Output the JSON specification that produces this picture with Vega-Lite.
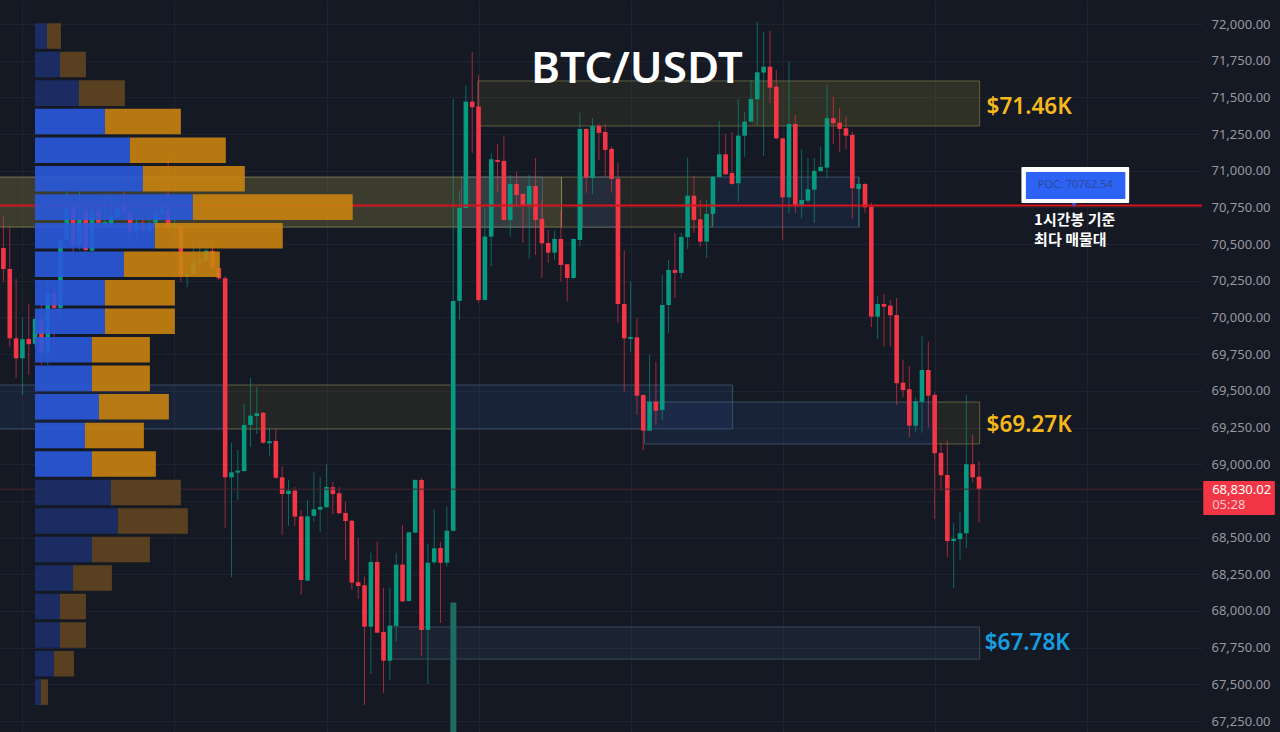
{
  "$schema": "https://vega.github.io/schema/vega-lite/v6.json",
  "width": 1280,
  "height": 732,
  "autosize": {"type": "fit", "contains": "padding"},
  "padding": 0,
  "background": "#151924",
  "config": {"view": {"stroke": null}},
  "datasets": {
    "zones": [
      {"t0": -3, "t1": 88.1, "top": 70957, "bottom": 70616, "kind": "olive_b"},
      {"t0": 88.1, "t1": 111.9, "top": 70957, "bottom": 70616, "kind": "olive_d"},
      {"t0": 72.3, "t1": 85.1, "top": 70957, "bottom": 70616, "kind": "blue"},
      {"t0": 91.4, "t1": 97.3, "top": 70957, "bottom": 70616, "kind": "blue"},
      {"t0": 111.9, "t1": 135.1, "top": 70957, "bottom": 70616, "kind": "blue"},
      {"t0": 74.9, "t1": 154.1, "top": 71612, "bottom": 71305, "kind": "olive_d"},
      {"t0": 118.1, "t1": 154.1, "top": 71612, "bottom": 71305, "kind": "tint"},
      {"t0": -3, "t1": 35, "top": 69540, "bottom": 69240, "kind": "blue"},
      {"t0": 35, "t1": 71.2, "top": 69540, "bottom": 69240, "kind": "olive_d"},
      {"t0": 71.2, "t1": 115.1, "top": 69540, "bottom": 69240, "kind": "blue"},
      {"t0": 101.2, "t1": 146.9, "top": 69424, "bottom": 69138, "kind": "blue"},
      {"t0": 146.9, "t1": 154.1, "top": 69424, "bottom": 69138, "kind": "olive_d"},
      {"t0": 61, "t1": 154.1, "top": 67891, "bottom": 67672, "kind": "blue_faint"},
      {"t0": 70.55, "t1": 71.5, "top": 68057, "bottom": 67100, "kind": "vol"}
    ],
    "candles": [
      {"t":0,"o":70474,"h":70687,"l":70244,"c":70331},{"t":1,"o":70331,"h":70619,"l":69801,"c":69858},
      {"t":2,"o":69858,"h":70263,"l":69588,"c":69722},{"t":3,"o":69722,"h":69997,"l":69472,"c":69852},
      {"t":4,"o":69854,"h":70092,"l":69608,"c":69818},{"t":5,"o":69820,"h":70000,"l":69800,"c":69990},
      {"t":6,"o":69990,"h":70099,"l":69677,"c":69760},{"t":7,"o":69760,"h":70256,"l":69677,"c":70167},
      {"t":8,"o":70167,"h":70256,"l":69758,"c":70065},{"t":9,"o":70065,"h":70530,"l":69963,"c":70524},
      {"t":10,"o":70528,"h":70903,"l":70528,"c":70746},{"t":11,"o":70749,"h":70755,"l":70426,"c":70494},
      {"t":12,"o":70494,"h":70869,"l":70460,"c":70672},{"t":13,"o":70728,"h":70801,"l":70447,"c":70460},
      {"t":14,"o":70455,"h":70801,"l":70447,"c":70728},{"t":15,"o":70728,"h":70821,"l":70631,"c":70646},
      {"t":16,"o":70637,"h":70821,"l":70617,"c":70651},{"t":17,"o":70642,"h":70821,"l":70610,"c":70692},
      {"t":18,"o":70687,"h":70821,"l":70678,"c":70746},{"t":19,"o":70767,"h":70858,"l":70665,"c":70721},
      {"t":20,"o":70719,"h":70801,"l":70483,"c":70585},{"t":21,"o":70585,"h":70699,"l":70528,"c":70646},
      {"t":22,"o":70646,"h":70699,"l":70576,"c":70592},{"t":23,"o":70592,"h":70712,"l":70562,"c":70642},
      {"t":24,"o":70646,"h":70801,"l":70631,"c":70710},{"t":25,"o":70710,"h":70767,"l":70699,"c":70733},
      {"t":26,"o":70733,"h":71096,"l":70597,"c":70619},{"t":27,"o":70617,"h":70699,"l":70528,"c":70637},
      {"t":28,"o":70619,"h":70624,"l":70244,"c":70290},{"t":29,"o":70283,"h":70378,"l":70206,"c":70297},
      {"t":30,"o":70297,"h":70528,"l":70290,"c":70381},{"t":31,"o":70372,"h":70508,"l":70290,"c":70385},
      {"t":32,"o":70385,"h":70494,"l":70372,"c":70455},{"t":33,"o":70455,"h":70517,"l":70312,"c":70340},
      {"t":34,"o":70336,"h":70340,"l":70256,"c":70267},{"t":35,"o":70267,"h":70283,"l":68568,"c":68911},
      {"t":36,"o":68911,"h":69147,"l":68230,"c":68945},{"t":37,"o":68943,"h":69097,"l":68756,"c":68956},
      {"t":38,"o":68954,"h":69411,"l":68950,"c":69268},{"t":39,"o":69268,"h":69588,"l":69118,"c":69331},
      {"t":40,"o":69329,"h":69527,"l":69206,"c":69347},{"t":41,"o":69351,"h":69355,"l":69140,"c":69147},
      {"t":42,"o":69143,"h":69247,"l":69056,"c":69157},{"t":43,"o":69159,"h":69247,"l":68900,"c":68908},
      {"t":44,"o":68911,"h":68988,"l":68518,"c":68797},{"t":45,"o":68797,"h":68893,"l":68581,"c":68820},
      {"t":46,"o":68820,"h":68845,"l":68579,"c":68643},{"t":47,"o":68645,"h":68688,"l":68109,"c":68211},
      {"t":48,"o":68207,"h":68756,"l":68205,"c":68645},{"t":49,"o":68648,"h":68949,"l":68609,"c":68693},
      {"t":50,"o":68690,"h":68913,"l":68538,"c":68709},{"t":51,"o":68707,"h":69000,"l":68705,"c":68845},
      {"t":52,"o":68843,"h":68879,"l":68661,"c":68797},{"t":53,"o":68802,"h":68845,"l":68660,"c":68666},
      {"t":54,"o":68668,"h":68743,"l":68348,"c":68613},{"t":55,"o":68615,"h":68620,"l":68143,"c":68193},
      {"t":56,"o":68196,"h":68498,"l":68082,"c":68170},{"t":57,"o":68175,"h":68234,"l":67359,"c":67893},
      {"t":58,"o":67893,"h":68397,"l":67571,"c":68334},{"t":59,"o":68334,"h":68472,"l":67850,"c":67852},
      {"t":60,"o":67857,"h":68159,"l":67443,"c":67661},{"t":61,"o":67661,"h":68159,"l":67530,"c":67900},
      {"t":62,"o":67898,"h":68397,"l":67791,"c":68316},{"t":63,"o":68316,"h":68586,"l":68060,"c":68066},
      {"t":64,"o":68068,"h":68540,"l":68065,"c":68536},{"t":65,"o":68534,"h":68896,"l":68530,"c":68893},
      {"t":66,"o":68893,"h":68906,"l":67695,"c":67871},{"t":67,"o":67871,"h":68457,"l":67503,"c":68329},
      {"t":68,"o":68332,"h":68695,"l":68320,"c":68427},{"t":69,"o":68429,"h":68472,"l":67918,"c":68329},
      {"t":70,"o":68329,"h":68711,"l":68302,"c":68547},{"t":71,"o":68547,"h":71489,"l":68540,"c":70113},
      {"t":72,"o":70113,"h":70864,"l":69983,"c":70746},{"t":73,"o":70746,"h":71580,"l":70746,"c":71471},
      {"t":74,"o":71471,"h":71810,"l":71121,"c":71433},{"t":75,"o":71437,"h":71653,"l":70099,"c":70119},
      {"t":76,"o":70119,"h":70746,"l":70115,"c":70551},{"t":77,"o":70551,"h":71121,"l":70351,"c":71078},
      {"t":78,"o":71074,"h":71183,"l":70858,"c":71060},{"t":79,"o":71067,"h":71239,"l":70660,"c":70665},
      {"t":80,"o":70665,"h":70971,"l":70551,"c":70910},{"t":81,"o":70910,"h":70994,"l":70760,"c":70835},
      {"t":82,"o":70842,"h":70845,"l":70510,"c":70767},{"t":83,"o":70767,"h":70971,"l":70399,"c":70896},
      {"t":84,"o":70896,"h":71087,"l":70426,"c":70665},{"t":85,"o":70672,"h":70801,"l":70269,"c":70506},
      {"t":86,"o":70508,"h":70597,"l":70372,"c":70442},{"t":87,"o":70442,"h":70592,"l":70392,"c":70535},
      {"t":88,"o":70535,"h":70733,"l":70244,"c":70358},{"t":89,"o":70363,"h":70365,"l":70108,"c":70269},
      {"t":90,"o":70269,"h":70540,"l":70265,"c":70535},{"t":91,"o":70528,"h":71396,"l":70483,"c":71285},
      {"t":92,"o":71285,"h":71290,"l":70849,"c":70953},{"t":93,"o":70951,"h":71358,"l":70842,"c":71305},
      {"t":94,"o":71305,"h":71319,"l":71074,"c":71258},{"t":95,"o":71264,"h":71319,"l":70960,"c":71142},
      {"t":96,"o":71149,"h":71164,"l":70851,"c":70944},{"t":97,"o":70946,"h":71053,"l":69963,"c":70092},
      {"t":98,"o":70092,"h":70460,"l":69495,"c":69858},{"t":99,"o":69854,"h":70244,"l":69767,"c":69867},
      {"t":100,"o":69865,"h":69995,"l":69336,"c":69467},{"t":101,"o":69472,"h":69475,"l":69097,"c":69229},
      {"t":102,"o":69229,"h":69745,"l":69225,"c":69426},{"t":103,"o":69426,"h":69699,"l":69268,"c":69365},
      {"t":104,"o":69370,"h":70290,"l":69302,"c":70085},{"t":105,"o":70085,"h":70392,"l":69895,"c":70324},
      {"t":106,"o":70324,"h":70576,"l":70133,"c":70304},{"t":107,"o":70304,"h":70576,"l":70269,"c":70549},
      {"t":108,"o":70547,"h":71089,"l":70467,"c":70830},{"t":109,"o":70830,"h":70965,"l":70576,"c":70665},
      {"t":110,"o":70669,"h":70801,"l":70483,"c":70517},{"t":111,"o":70517,"h":70801,"l":70406,"c":70706},
      {"t":112,"o":70706,"h":70965,"l":70619,"c":70960},{"t":113,"o":70958,"h":71339,"l":70955,"c":71112},
      {"t":114,"o":71112,"h":71251,"l":70970,"c":70976},{"t":115,"o":70985,"h":71264,"l":70905,"c":70910},
      {"t":116,"o":70915,"h":71489,"l":70789,"c":71239},{"t":117,"o":71239,"h":71399,"l":71096,"c":71335},
      {"t":118,"o":71335,"h":71619,"l":71330,"c":71489},{"t":119,"o":71487,"h":72016,"l":71312,"c":71671},
      {"t":120,"o":71669,"h":71944,"l":71101,"c":71709},{"t":121,"o":71709,"h":71953,"l":71462,"c":71566},
      {"t":122,"o":71573,"h":71687,"l":71215,"c":71221},{"t":123,"o":71221,"h":71225,"l":70528,"c":70819},
      {"t":124,"o":70819,"h":71744,"l":70712,"c":71319},{"t":125,"o":71319,"h":71380,"l":70712,"c":70767},
      {"t":126,"o":70767,"h":71142,"l":70678,"c":70801},{"t":127,"o":70796,"h":71087,"l":70781,"c":70874},
      {"t":128,"o":70871,"h":71087,"l":70644,"c":70999},{"t":129,"o":70997,"h":71164,"l":70995,"c":71026},
      {"t":130,"o":71021,"h":71585,"l":70951,"c":71358},{"t":131,"o":71358,"h":71505,"l":71183,"c":71324},
      {"t":132,"o":71328,"h":71428,"l":71130,"c":71285},{"t":133,"o":71290,"h":71369,"l":71149,"c":71239},
      {"t":134,"o":71244,"h":71266,"l":70672,"c":70881},{"t":135,"o":70876,"h":70960,"l":70619,"c":70910},
      {"t":136,"o":70910,"h":70915,"l":70714,"c":70751},{"t":137,"o":70755,"h":70783,"l":69935,"c":70006},
      {"t":138,"o":70006,"h":70147,"l":69854,"c":70092},{"t":139,"o":70092,"h":70160,"l":69801,"c":70074},
      {"t":140,"o":70081,"h":70119,"l":69801,"c":70015},{"t":141,"o":70017,"h":70133,"l":69404,"c":69552},
      {"t":142,"o":69556,"h":69711,"l":69458,"c":69506},{"t":143,"o":69511,"h":69670,"l":69184,"c":69263},
      {"t":144,"o":69263,"h":69458,"l":69222,"c":69429},{"t":145,"o":69426,"h":69874,"l":69215,"c":69642},
      {"t":146,"o":69642,"h":69835,"l":69249,"c":69467},{"t":147,"o":69472,"h":69488,"l":68625,"c":69075},
      {"t":148,"o":69077,"h":69145,"l":68820,"c":68925},{"t":149,"o":68927,"h":69161,"l":68366,"c":68477},
      {"t":150,"o":68477,"h":68598,"l":68155,"c":68493},{"t":151,"o":68489,"h":68677,"l":68352,"c":68530},
      {"t":152,"o":68530,"h":69472,"l":68427,"c":69000},{"t":153,"o":69000,"h":69204,"l":68877,"c":68911},
      {"t":154,"o":68915,"h":69022,"l":68602,"c":68830}
    ],
    "profile": [
      {"hi":72005,"lo":71831,"v0":0,"v1":12,"kind":"buy_out"},{"hi":72005,"lo":71831,"v0":12,"v1":26,"kind":"sell_out"},
      {"hi":71811,"lo":71637,"v0":0,"v1":25,"kind":"buy_out"},{"hi":71811,"lo":71637,"v0":25,"v1":51,"kind":"sell_out"},
      {"hi":71616,"lo":71442,"v0":0,"v1":44,"kind":"buy_out"},{"hi":71616,"lo":71442,"v0":44,"v1":90,"kind":"sell_out"},
      {"hi":71422,"lo":71248,"v0":0,"v1":70,"kind":"buy"},{"hi":71422,"lo":71248,"v0":70,"v1":146,"kind":"sell"},
      {"hi":71227,"lo":71053,"v0":0,"v1":95,"kind":"buy"},{"hi":71227,"lo":71053,"v0":95,"v1":191,"kind":"sell"},
      {"hi":71033,"lo":70859,"v0":0,"v1":108,"kind":"buy"},{"hi":71033,"lo":70859,"v0":108,"v1":210,"kind":"sell"},
      {"hi":70839,"lo":70665,"v0":0,"v1":158,"kind":"buy"},{"hi":70839,"lo":70665,"v0":158,"v1":318,"kind":"sell"},
      {"hi":70644,"lo":70470,"v0":0,"v1":120,"kind":"buy"},{"hi":70644,"lo":70470,"v0":120,"v1":248,"kind":"sell"},
      {"hi":70450,"lo":70276,"v0":0,"v1":89,"kind":"buy"},{"hi":70450,"lo":70276,"v0":89,"v1":185,"kind":"sell"},
      {"hi":70255,"lo":70081,"v0":0,"v1":70,"kind":"buy"},{"hi":70255,"lo":70081,"v0":70,"v1":140,"kind":"sell"},
      {"hi":70061,"lo":69887,"v0":0,"v1":70,"kind":"buy"},{"hi":70061,"lo":69887,"v0":70,"v1":140,"kind":"sell"},
      {"hi":69867,"lo":69693,"v0":0,"v1":57,"kind":"buy"},{"hi":69867,"lo":69693,"v0":57,"v1":115,"kind":"sell"},
      {"hi":69672,"lo":69498,"v0":0,"v1":57,"kind":"buy"},{"hi":69672,"lo":69498,"v0":57,"v1":115,"kind":"sell"},
      {"hi":69478,"lo":69304,"v0":0,"v1":64,"kind":"buy"},{"hi":69478,"lo":69304,"v0":64,"v1":134,"kind":"sell"},
      {"hi":69283,"lo":69109,"v0":0,"v1":50,"kind":"buy"},{"hi":69283,"lo":69109,"v0":50,"v1":109,"kind":"sell"},
      {"hi":69089,"lo":68915,"v0":0,"v1":57,"kind":"buy"},{"hi":69089,"lo":68915,"v0":57,"v1":121,"kind":"sell"},
      {"hi":68895,"lo":68721,"v0":0,"v1":76,"kind":"buy_out"},{"hi":68895,"lo":68721,"v0":76,"v1":146,"kind":"sell_out"},
      {"hi":68700,"lo":68526,"v0":0,"v1":83,"kind":"buy_out"},{"hi":68700,"lo":68526,"v0":83,"v1":153,"kind":"sell_out"},
      {"hi":68506,"lo":68332,"v0":0,"v1":57,"kind":"buy_out"},{"hi":68506,"lo":68332,"v0":57,"v1":115,"kind":"sell_out"},
      {"hi":68311,"lo":68137,"v0":0,"v1":38,"kind":"buy_out"},{"hi":68311,"lo":68137,"v0":38,"v1":77,"kind":"sell_out"},
      {"hi":68117,"lo":67943,"v0":0,"v1":25,"kind":"buy_out"},{"hi":68117,"lo":67943,"v0":25,"v1":51,"kind":"sell_out"},
      {"hi":67923,"lo":67749,"v0":0,"v1":25,"kind":"buy_out"},{"hi":67923,"lo":67749,"v0":25,"v1":51,"kind":"sell_out"},
      {"hi":67728,"lo":67554,"v0":0,"v1":19,"kind":"buy_out"},{"hi":67728,"lo":67554,"v0":19,"v1":39,"kind":"sell_out"},
      {"hi":67534,"lo":67360,"v0":0,"v1":6,"kind":"buy_out"},{"hi":67534,"lo":67360,"v0":6,"v1":13,"kind":"sell_out"}
    ]
  },
  "layer": [
    {
      "layer": [
        {
          "data": {"name": "zones"},
          "mark": {"type": "rect", "clip": true, "strokeWidth": 1},
          "encoding": {
            "x": {
              "field": "t0", "type": "quantitative",
              "scale": {"domain": [-0.54, 189.2], "nice": false, "zero": false, "padding": 0},
              "axis": {"values": [3, 27, 51, 75, 99, 123, 147, 171], "tickCount": 30, "labels": false, "ticks": false, "domain": false, "grid": true, "gridColor": "#1f2330", "title": null, "maxExtent": 0, "minExtent": 0}
            },
            "x2": {"field": "t1"},
            "y": {
              "field": "top", "type": "quantitative",
              "scale": {"domain": [67175.2, 72163.6], "nice": false, "zero": false},
              "axis": {
                "orient": "right",
                "values": [67250, 67500, 67750, 68000, 68250, 68500, 68750, 69000, 69250, 69500, 69750, 70000, 70250, 70500, 70750, 71000, 71250, 71500, 71750, 72000],
                "tickCount": 40,
                "format": ",.2f", "labelExpr": "datum.value == 68750 ? '' : datum.label",
                "title": null, "ticks": false, "domain": false, "grid": true, "gridColor": "#1f2330",
                "labelColor": "#9598a1", "labelFont": "Noto Sans", "labelFontSize": 13, "labelPadding": 9, "labelOverlap": false, "minExtent": 77, "maxExtent": 77
              }
            },
            "y2": {"field": "bottom"},
            "fill": {
              "field": "kind", "type": "nominal", "legend": null,
              "scale": {
                "domain": ["olive_b", "olive_d", "tint", "blue", "blue_faint", "vol"],
                "range": ["rgba(150,142,70,0.3)", "rgba(110,105,50,0.17)", "rgba(130,120,50,0.12)", "rgba(40,66,115,0.26)", "rgba(60,85,105,0.18)", "#1d6b62"]
              }
            },
            "stroke": {
              "field": "kind", "type": "nominal", "legend": null,
              "scale": {
                "domain": ["olive_b", "olive_d", "tint", "blue", "blue_faint", "vol"],
                "range": ["rgba(170,165,100,0.6)", "rgba(150,145,85,0.55)", "rgba(0,0,0,0)", "rgba(95,125,150,0.5)", "rgba(95,125,150,0.45)", "rgba(0,0,0,0)"]
              }
            }
          }
        },
        {
          "data": {"name": "candles"},
          "mark": {"type": "rule", "strokeWidth": 1, "opacity": 0.62},
          "encoding": {
            "x": {"field": "t", "type": "quantitative", "scale": {"domain": [-0.54, 189.2], "nice": false, "zero": false, "padding": 0}},
            "y": {"field": "l", "type": "quantitative", "scale": {"domain": [67175.2, 72163.6], "nice": false, "zero": false}},
            "y2": {"field": "h"},
            "color": {"condition": {"test": "datum.c < datum.o", "value": "#f23645"}, "value": "#089981"}
          }
        },
        {
          "data": {"name": "candles"},
          "mark": {"type": "bar", "width": 4.6},
          "encoding": {
            "x": {"field": "t", "type": "quantitative", "scale": {"domain": [-0.54, 189.2], "nice": false, "zero": false, "padding": 0}},
            "y": {"field": "o", "type": "quantitative", "scale": {"domain": [67175.2, 72163.6], "nice": false, "zero": false}},
            "y2": {"field": "c"},
            "color": {"condition": {"test": "datum.c < datum.o", "value": "#f23645"}, "value": "#089981"}
          }
        },
        {
          "data": {"values": [{"price": 70762.54, "kind": "poc"}, {"price": 68830.02, "kind": "last"}]},
          "mark": {"type": "rule", "clip": true},
          "encoding": {
            "y": {"field": "price", "type": "quantitative", "scale": {"domain": [67175.2, 72163.6], "nice": false, "zero": false}},
            "color": {"field": "kind", "type": "nominal", "legend": null, "scale": {"domain": ["poc", "last"], "range": ["#d8131c", "#4a2530"]}},
            "strokeWidth": {"field": "kind", "type": "nominal", "legend": null, "scale": {"domain": ["poc", "last"], "range": [2, 1]}}
          }
        },
        {
          "data": {"values": [
            {"t0": 160.7, "t1": 177.7, "top": 71026, "bottom": 70781, "kind": "frame"},
            {"t0": 161.4, "t1": 177.1, "top": 70992, "bottom": 70808, "kind": "poc"},
            {"t0": 189.4, "t1": 200.7, "top": 68886, "bottom": 68654, "kind": "tag"}
          ]},
          "mark": {"type": "rect", "cornerRadius": 1},
          "encoding": {
            "x": {"field": "t0", "type": "quantitative", "scale": {"domain": [-0.54, 189.2], "nice": false, "zero": false, "padding": 0}},
            "x2": {"field": "t1"},
            "y": {"field": "top", "type": "quantitative", "scale": {"domain": [67175.2, 72163.6], "nice": false, "zero": false}},
            "y2": {"field": "bottom"},
            "color": {"field": "kind", "type": "nominal", "legend": null, "scale": {"domain": ["frame", "poc", "tag"], "range": ["#ffffff", "#2c63f5", "#f23645"]}}
          }
        },
        {
          "data": {"values": [{"t": 169, "price": 70767}]},
          "mark": {"type": "point", "shape": "triangle-down", "filled": true, "size": 22, "color": "#2c63f5", "opacity": 1},
          "encoding": {
            "x": {"field": "t", "type": "quantitative", "scale": {"domain": [-0.54, 189.2], "nice": false, "zero": false, "padding": 0}},
            "y": {"field": "price", "type": "quantitative", "scale": {"domain": [67175.2, 72163.6], "nice": false, "zero": false}}
          }
        },
        {
          "data": {"values": [{"t": 100, "price": 71684, "label": "BTC/USDT"}]},
          "mark": {"type": "text", "font": "Noto Sans", "fontSize": 44, "fontWeight": 600, "color": "#ffffff", "align": "center", "baseline": "middle"},
          "encoding": {
            "x": {"field": "t", "type": "quantitative", "scale": {"domain": [-0.54, 189.2], "nice": false, "zero": false, "padding": 0}},
            "y": {"field": "price", "type": "quantitative", "scale": {"domain": [67175.2, 72163.6], "nice": false, "zero": false}},
            "text": {"field": "label"}
          }
        },
        {
          "data": {"values": [
            {"t": 155.2, "price": 71432, "label": "$71.46K", "kind": "res"},
            {"t": 155.2, "price": 69267, "label": "$69.27K", "kind": "res"},
            {"t": 154.9, "price": 67782, "label": "$67.78K", "kind": "sup"}
          ]},
          "mark": {"type": "text", "font": "Noto Sans", "fontSize": 22.5, "fontWeight": 600, "align": "left", "baseline": "middle"},
          "encoding": {
            "x": {"field": "t", "type": "quantitative", "scale": {"domain": [-0.54, 189.2], "nice": false, "zero": false, "padding": 0}},
            "y": {"field": "price", "type": "quantitative", "scale": {"domain": [67175.2, 72163.6], "nice": false, "zero": false}},
            "text": {"field": "label"},
            "color": {"field": "kind", "type": "nominal", "legend": null, "scale": {"domain": ["res", "sup"], "range": ["#f5b81b", "#169ee0"]}}
          }
        },
        {
          "data": {"values": [{"t": 169.2, "price": 70900, "label": "POC: 70762.54"}]},
          "mark": {"type": "text", "font": "Noto Sans", "fontSize": 11, "color": "#2f4a96", "align": "center", "baseline": "middle"},
          "encoding": {
            "x": {"field": "t", "type": "quantitative", "scale": {"domain": [-0.54, 189.2], "nice": false, "zero": false, "padding": 0}},
            "y": {"field": "price", "type": "quantitative", "scale": {"domain": [67175.2, 72163.6], "nice": false, "zero": false}},
            "text": {"field": "label"}
          }
        },
        {
          "data": {"values": [
            {"t": 162.7, "price": 70662, "label": "1시간봉 기준"},
            {"t": 162.7, "price": 70527, "label": "최다 매물대"}
          ]},
          "mark": {"type": "text", "font": "Noto Sans CJK KR", "fontSize": 15, "fontWeight": 700, "color": "#ffffff", "align": "left", "baseline": "middle"},
          "encoding": {
            "x": {"field": "t", "type": "quantitative", "scale": {"domain": [-0.54, 189.2], "nice": false, "zero": false, "padding": 0}},
            "y": {"field": "price", "type": "quantitative", "scale": {"domain": [67175.2, 72163.6], "nice": false, "zero": false}},
            "text": {"field": "label"}
          }
        },
        {
          "data": {"values": [
            {"t": 190.8, "price": 68825, "label": "68,830.02", "kind": "price"},
            {"t": 190.8, "price": 68722, "label": "05:28", "kind": "timer"}
          ]},
          "mark": {"type": "text", "font": "Noto Sans", "fontSize": 13, "align": "left", "baseline": "middle"},
          "encoding": {
            "x": {"field": "t", "type": "quantitative", "scale": {"domain": [-0.54, 189.2], "nice": false, "zero": false, "padding": 0}},
            "y": {"field": "price", "type": "quantitative", "scale": {"domain": [67175.2, 72163.6], "nice": false, "zero": false}},
            "text": {"field": "label"},
            "color": {"field": "kind", "type": "nominal", "legend": null, "scale": {"domain": ["price", "timer"], "range": ["#ffffff", "#ffc4cb"]}}
          }
        }
      ],
      "resolve": {"scale": {"color": "independent", "strokeWidth": "independent"}}
    },
    {
      "data": {"name": "profile"},
      "mark": {"type": "rect", "opacity": 0.9},
      "encoding": {
        "x": {"field": "v0", "type": "quantitative", "scale": {"domain": [-35, 1168], "nice": false, "zero": false}, "axis": null},
        "x2": {"field": "v1"},
        "y": {"field": "hi", "type": "quantitative", "scale": {"domain": [67175.2, 72163.6], "nice": false, "zero": false}},
        "y2": {"field": "lo"},
        "color": {
          "field": "kind", "type": "nominal", "legend": null,
          "scale": {"domain": ["buy", "sell", "buy_out", "sell_out"], "range": ["#2a59dc", "#c98310", "#1b2f68", "#5f4520"]}
        }
      }
    }
  ],
  "resolve": {"scale": {"x": "independent", "color": "independent"}}
}
